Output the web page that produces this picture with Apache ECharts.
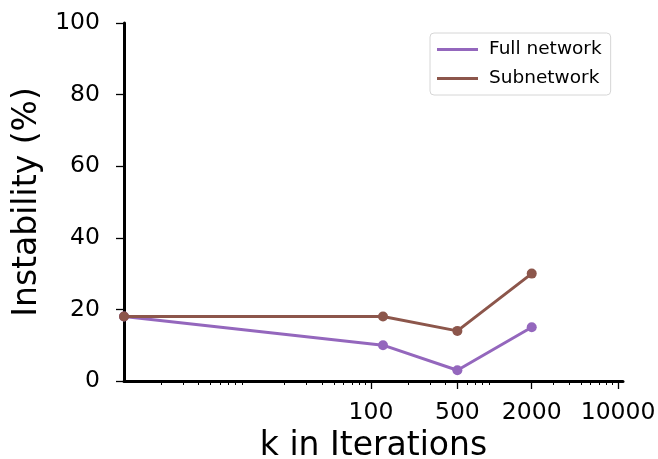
<!DOCTYPE html>
<html>
<head>
<meta charset="utf-8">
<script src="https://cdn.jsdelivr.net/npm/echarts@6/dist/echarts.min.js"></script>
<style>
  html, body { margin: 0; padding: 0; background: #fff; }
  #chart { width: 658px; height: 459px; }
</style>
</head>
<body>
<div id="chart"></div>
<script>
// values
var iterations = [1, 125, 500, 2000];
var fullNetwork = [18, 10, 3, 15];
var subnetwork = [18, 18, 14, 30];
var xTickLabels = [100, 500, 2000, 10000];
var yTicks = [0, 20, 40, 60, 80, 100];

// log axis drawn on log10 values
function toPoints(vals) {
  return iterations.map(function (k, i) { return [Math.log10(k), vals[i]]; });
}
var majorPos = xTickLabels.map(function (v) { return Math.log10(v); });
var minorPos = [];
for (var d = 0; d < 4; d++) {
  for (var m = 2; m <= 9; m++) minorPos.push(Math.log10(m * Math.pow(10, d)));
}

var font = "DejaVu Sans";
var chart = echarts.init(document.getElementById("chart"));
chart.setOption({
  animation: false,
  color: ["#9467bd", "#8c564b"],
  grid: { left: 124, right: 35, top: 23, bottom: 78, outerBoundsMode: "none" },
  legend: {
    left: 430,
    top: 33,
    orient: "vertical",
    icon: "rect",
    itemWidth: 41,
    itemHeight: 3,
    itemGap: 10,
    padding: [7, 9, 7, 7],
    borderColor: "#d6d6d6",
    borderWidth: 1,
    borderRadius: 4,
    textStyle: { fontFamily: font, fontSize: 18.5, color: "#000", padding: [0, 0, 0, 6] },
    data: ["Full network", "Subnetwork"]
  },
  xAxis: [
    {
      type: "value",
      min: 0,
      max: 4.04,
      name: "k in Iterations",
      nameLocation: "middle",
      nameGap: 46,
      nameTextStyle: { fontFamily: font, fontSize: 33, color: "#000" },
      axisLine: { lineStyle: { color: "#000", width: 3 } },
      axisTick: { customValues: majorPos, length: 8, lineStyle: { color: "#000", width: 1.3 } },
      axisLabel: {
        customValues: majorPos,
        margin: 20,
        fontFamily: font,
        fontSize: 23.5,
        color: "#000",
        formatter: function (v) { return String(Math.round(Math.pow(10, v))); }
      },
      splitLine: { show: false }
    },
    {
      type: "value",
      min: 0,
      max: 4.04,
      position: "bottom",
      axisLine: { show: false },
      axisTick: { customValues: minorPos, length: 4, lineStyle: { color: "#000", width: 1 } },
      axisLabel: { show: false },
      splitLine: { show: false }
    }
  ],
  yAxis: {
    type: "value",
    min: 0,
    max: 100,
    interval: 20,
    name: "Instability (%)",
    nameLocation: "middle",
    nameGap: 74,
    nameTextStyle: { fontFamily: font, fontSize: 33, color: "#000" },
    axisLine: { show: true, lineStyle: { color: "#000", width: 3 } },
    axisTick: { show: true, customValues: yTicks, length: 8, lineStyle: { color: "#000", width: 1.3 } },
    axisLabel: { customValues: yTicks, margin: 24, fontFamily: font, fontSize: 23.5, color: "#000" },
    splitLine: { show: false }
  },
  series: [
    {
      name: "Full network",
      type: "line",
      data: toPoints(fullNetwork),
      symbol: "circle",
      symbolSize: 10,
      lineStyle: { width: 3 },
      z: 3
    },
    {
      name: "Subnetwork",
      type: "line",
      data: toPoints(subnetwork),
      symbol: "circle",
      symbolSize: 10,
      lineStyle: { width: 3 },
      z: 4
    }
  ]
});
</script>
</body>
</html>
